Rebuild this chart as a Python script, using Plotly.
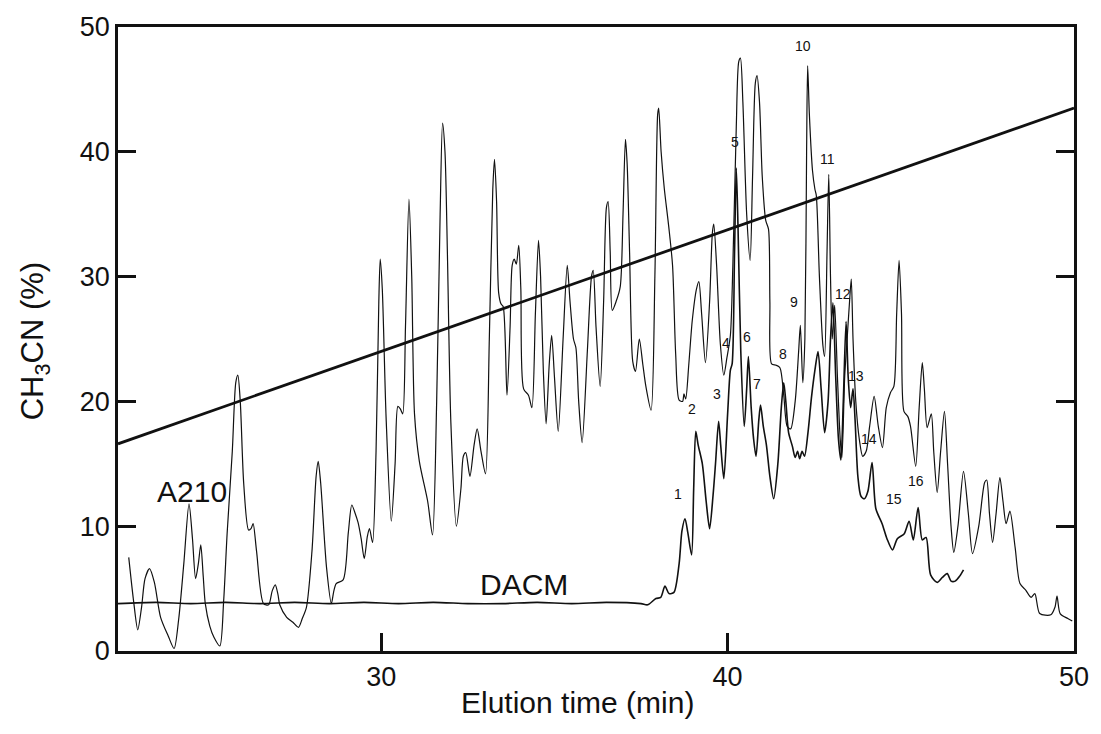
import plotly.graph_objects as go

# ---- data ----
a210_x = [22.71, 22.85, 22.97, 23.08, 23.18, 23.31, 23.45, 23.63, 23.85, 24.02, 24.15, 24.30, 24.45, 24.55, 24.64,
          24.72, 24.79, 24.86, 24.92, 25.05, 25.17, 25.34, 25.45, 25.55, 25.70, 25.80, 25.86, 25.93, 26.03, 26.17,
          26.24, 26.30, 26.40, 26.60, 26.75, 26.85, 26.94, 27.02, 27.07, 27.27, 27.45, 27.61, 27.72, 27.84, 28.00,
          28.12, 28.18, 28.25, 28.42, 28.56, 28.63, 28.70, 28.90, 29.05, 29.15, 29.25, 29.33, 29.42, 29.51, 29.60,
          29.66, 29.75, 29.85, 29.93, 29.97, 30.03, 30.14, 30.29, 30.40, 30.48, 30.55, 30.62, 30.70, 30.80, 30.88,
          30.96, 31.10, 31.34, 31.48, 31.60, 31.70, 31.77, 31.84, 31.91, 32.01, 32.17, 32.30, 32.37, 32.44, 32.56,
          32.68, 32.77, 32.88, 33.01, 33.12, 33.22, 33.27, 33.33, 33.39, 33.46, 33.52, 33.63, 33.72, 33.78, 33.84,
          33.90, 33.97, 34.03, 34.11, 34.25, 34.35, 34.45, 34.54, 34.60, 34.68, 34.76, 34.85, 34.92, 35.00, 35.11,
          35.25, 35.37, 35.45, 35.55, 35.62, 35.70, 35.80, 35.95, 36.07, 36.12, 36.20, 36.32, 36.42, 36.50, 36.55,
          36.61, 36.67, 36.78, 36.90, 36.98, 37.05, 37.10, 37.17, 37.26, 37.34, 37.45, 37.55, 37.64, 37.79, 37.90,
          37.98, 38.01, 38.08, 38.17, 38.30, 38.41, 38.50, 38.60, 38.70, 38.74, 38.79, 38.88, 38.98, 39.10, 39.17,
          39.25, 39.36, 39.48, 39.56, 39.60, 39.68, 39.79, 39.89, 39.98, 40.08, 40.15, 40.25, 40.32, 40.37, 40.44,
          40.55, 40.65, 40.72, 40.80, 40.85, 40.92, 41.00, 41.10, 41.18, 41.22, 41.27, 41.40, 41.51, 41.62, 41.72,
          41.82, 41.95, 42.05, 42.10, 42.17, 42.23, 42.28, 42.31, 42.36, 42.45, 42.52, 42.56, 42.65, 42.75, 42.80,
          42.87, 42.92, 42.97, 43.02, 43.09, 43.17, 43.25, 43.30, 43.38, 43.45, 43.52, 43.57, 43.62, 43.70, 43.80,
          43.90, 44.00, 44.10, 44.23, 44.35, 44.47, 44.58, 44.70, 44.80, 44.88, 44.95, 45.02, 45.09, 45.20, 45.28,
          45.43, 45.53, 45.62, 45.68, 45.76, 45.88, 45.95, 46.05, 46.15, 46.26, 46.35, 46.45, 46.53, 46.65, 46.81,
          46.95, 47.07, 47.25, 47.42, 47.48, 47.56, 47.65, 47.75, 47.86, 47.95, 48.04, 48.15, 48.30, 48.44, 48.60,
          48.76, 48.87, 49.01, 49.33, 49.45, 49.51, 49.60, 49.82, 49.95]
a210_y = [7.5, 4.0, 1.7, 3.5, 5.8, 6.6, 5.5, 2.7, 1.2, 0.2, 2.5, 7.0, 11.8, 9.0, 5.8,
          7.0, 8.5, 6.0, 3.8, 2.0, 1.1, 0.4, 4.0, 9.4, 16.0, 21.5, 22.1, 20.0, 13.4, 9.7,
          9.8, 10.2, 8.0, 3.8, 3.7, 4.8, 5.3, 4.5, 3.7, 2.7, 2.3, 1.9, 2.6, 3.5, 8.0,
          14.0, 15.2, 13.5, 6.7, 3.8, 4.8, 5.4, 5.7, 9.5, 11.7, 11.0, 10.3, 9.0, 7.4, 9.2,
          9.8, 8.7, 16.0, 28.0, 31.4, 29.0, 18.7, 10.4, 15.0, 19.6, 19.4, 19.0, 26.0, 36.2, 30.0,
          19.0, 15.2, 12.0, 9.3, 20.0, 35.0, 42.3, 40.0, 31.9, 18.3, 10.0, 13.0, 15.6, 15.9, 14.0,
          16.5, 17.8, 16.0, 14.2, 25.0, 37.0, 39.4, 36.0, 28.7, 27.8, 27.6, 20.5, 26.0, 30.9, 31.4,
          31.0, 32.5, 29.0, 21.0, 20.5, 19.5, 27.0, 32.9, 30.0, 22.4, 18.2, 23.0, 25.3, 22.0, 17.6,
          25.0, 30.9, 28.0, 25.0, 24.3, 20.0, 16.7, 24.0, 30.0, 30.5, 26.0, 21.2, 28.0, 35.5, 36.0,
          32.0, 27.3, 28.0, 29.2, 35.0, 41.0, 39.0, 31.9, 23.2, 22.4, 25.0, 23.0, 21.2, 19.3, 30.0,
          43.0, 43.5, 40.0, 37.1, 34.0, 30.9, 23.8, 20.1, 20.0, 20.6, 20.2, 23.0, 26.5, 29.0, 29.6,
          27.0, 23.1, 28.0, 33.5, 34.2, 31.0, 24.6, 22.1, 23.5, 25.3, 30.8, 42.0, 47.2, 47.5, 44.0,
          35.0, 31.3, 38.0, 45.5, 46.1, 44.0, 38.0, 34.5, 33.8, 28.0, 23.0, 22.9, 22.7, 20.5, 18.0,
          17.8, 20.0, 24.0, 26.1, 21.5, 25.0, 40.0, 46.9, 43.0, 38.5, 37.0, 36.5, 30.0, 24.5, 23.6,
          32.0, 38.2, 30.0, 25.0, 27.7, 22.0, 17.0, 15.5, 22.0, 25.0, 28.0, 29.8, 25.0, 20.0, 17.0,
          15.6, 16.0, 18.0, 20.4, 18.0, 16.3, 19.5, 20.7, 21.2, 27.0, 31.3, 27.0, 19.2, 18.8, 18.0,
          14.8, 19.5, 23.1, 21.0, 17.9, 19.0, 16.0, 12.7, 16.0, 19.2, 15.0, 10.0, 7.9, 10.0, 14.4,
          11.0, 7.8, 10.0, 13.5, 13.7, 11.0, 8.7, 11.0, 13.9, 12.0, 10.2, 11.2, 8.3, 5.4, 4.9,
          4.3, 4.6, 3.0, 2.9, 3.5, 4.4, 3.0, 2.6, 2.4]

dacm_x = [22.4, 23.5, 24.5, 25.5, 26.5, 27.5, 28.5, 29.5, 30.5, 31.5, 32.5, 33.5, 34.5, 35.5, 36.5, 37.5,
          37.69, 37.93, 38.07, 38.19, 38.31, 38.45, 38.60, 38.68, 38.77, 38.85, 38.96, 39.02, 39.08, 39.15,
          39.27, 39.38, 39.48, 39.58, 39.65, 39.74, 39.80, 39.89, 40.00, 40.08, 40.13, 40.20, 40.25, 40.30,
          40.38, 40.48, 40.55, 40.60, 40.68, 40.75, 40.82, 40.90, 40.95, 41.03, 41.12, 41.22, 41.33, 41.45,
          41.55, 41.62, 41.68, 41.76, 41.87, 41.95, 42.02, 42.08, 42.15, 42.22, 42.32, 42.42, 42.52, 42.61,
          42.70, 42.80, 42.90, 42.97, 43.04, 43.12, 43.20, 43.27, 43.34, 43.42, 43.48, 43.55, 43.62, 43.68,
          43.76, 43.85, 43.95, 44.05, 44.17, 44.28, 44.46, 44.60, 44.76, 44.90, 45.10, 45.24, 45.36, 45.50,
          45.62, 45.73, 45.86, 46.05, 46.20, 46.34, 46.45, 46.57, 46.70, 46.81]
dacm_y = [3.8, 3.9, 3.8, 3.9, 3.8, 3.9, 3.8, 3.9, 3.8, 3.9, 3.8, 3.8, 3.9, 3.8, 3.9, 3.8,
          3.7, 4.2, 4.3, 5.2, 4.6, 4.7, 7.0, 9.6, 10.6, 9.5, 7.7, 13.0, 17.6, 16.5,
          15.0, 12.0, 9.8, 12.5, 15.0, 18.4, 16.5, 13.8, 19.0, 22.5, 23.0, 32.0, 38.7, 34.0,
          24.0, 18.0, 21.0, 23.6, 19.5, 17.0, 15.6, 18.5, 19.7, 18.0, 16.5, 14.0, 12.2, 15.0,
          19.5, 21.5, 20.0, 17.5, 16.4, 15.5, 16.0, 15.4, 16.0, 15.6, 17.5, 20.3, 22.5, 24.0,
          21.0, 17.5, 20.0, 25.0, 27.9, 22.0, 17.0, 15.3, 20.0, 26.4, 22.0, 19.5, 21.0, 18.5,
          14.0, 12.4, 12.2, 12.8, 15.1, 11.4, 10.2, 9.0, 8.1, 9.0, 9.4, 10.4, 8.9, 11.5,
          8.9, 9.1, 6.1, 5.5, 5.9, 6.2, 5.6, 5.6, 6.0, 6.5]

gradient_x = [22.4, 50.0]
gradient_y = [16.6, 43.5]

peak_labels = ["1", "2", "3", "4", "5", "6", "7", "8", "9", "10", "11", "12", "13", "14", "15", "16"]
peak_label_x = [38.58, 38.98, 39.70, 39.94, 40.20, 40.56, 40.84, 41.61, 41.91, 42.18, 42.88, 43.33, 43.71, 44.09, 44.79, 45.43]
peak_label_y = [12.6, 19.4, 20.6, 24.7, 40.8, 25.2, 21.4, 23.8, 28.0, 48.5, 39.4, 28.6, 22.0, 17.0, 12.2, 13.6]

x_range = [22.4, 50]
y_range = [0, 50]

FONT = "Liberation Sans, Arial, Helvetica, sans-serif"
INK = "#111111"

fig = go.Figure()
fig.add_trace(go.Scatter(x=gradient_x, y=gradient_y, mode="lines",
                         line=dict(color=INK, width=2.8), hoverinfo="skip"))
fig.add_trace(go.Scatter(x=a210_x, y=a210_y, mode="lines",
                         line=dict(color=INK, width=1.2, shape="spline", smoothing=0.75), hoverinfo="skip"))
fig.add_trace(go.Scatter(x=dacm_x, y=dacm_y, mode="lines",
                         line=dict(color=INK, width=1.6, shape="spline", smoothing=0.75), hoverinfo="skip"))
# invisible trace to drive the right-hand tick axis
fig.add_trace(go.Scatter(x=x_range, y=y_range, yaxis="y2", mode="lines",
                         line=dict(color="rgba(0,0,0,0)"), hoverinfo="skip"))

for t, lx, ly in zip(peak_labels, peak_label_x, peak_label_y):
    fig.add_annotation(x=lx, y=ly, text=t, showarrow=False, xref="x", yref="y",
                       font=dict(family=FONT, size=14, color=INK))

fig.add_annotation(x=24.55, y=12.8, text="A210", showarrow=False, xref="x", yref="y",
                   font=dict(family=FONT, size=30, color=INK))
fig.add_annotation(x=34.11, y=5.3, text="DACM", showarrow=False, xref="x", yref="y",
                   font=dict(family=FONT, size=30, color=INK))

fig.add_annotation(x=0.481, y=-0.083, xref="paper", yref="paper", text="Elution time (min)",
                   showarrow=False, yanchor="middle", font=dict(family=FONT, size=30, color=INK))
fig.add_annotation(x=-0.086, y=0.496, xref="paper", yref="paper", text="CH<sub>3</sub>CN (%)",
                   showarrow=False, textangle=-90, xanchor="center", font=dict(family=FONT, size=31, color=INK))

axis_common = dict(showgrid=False, zeroline=False, linecolor=INK, linewidth=2.5,
                   ticks="inside", ticklen=18, tickwidth=2.5, tickcolor=INK,
                   tickfont=dict(family=FONT, size=27, color=INK))

fig.update_layout(
    width=1101, height=734,
    margin=dict(l=118, r=19, t=24, b=83),
    paper_bgcolor="white", plot_bgcolor="white",
    showlegend=False,
    xaxis=dict(range=x_range, dtick=10, tick0=0, mirror=True, showline=True, **axis_common),
    yaxis=dict(range=y_range, dtick=10, tick0=0, showline=True, **axis_common),
    yaxis2=dict(range=y_range, dtick=10, tick0=0, overlaying="y", side="right", showline=True,
                showticklabels=False, showgrid=False, zeroline=False, linecolor=INK, linewidth=2.5,
                ticks="inside", ticklen=18, tickwidth=2.5, tickcolor=INK),
)

fig.write_html("out.html")
